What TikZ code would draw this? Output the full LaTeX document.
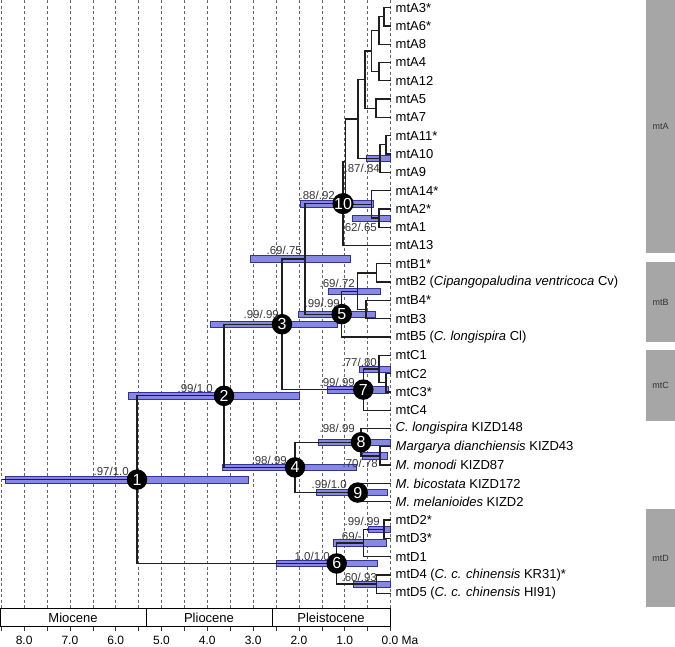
\documentclass[tikz,border=0pt]{standalone}
\usepackage{fontspec}
\setmainfont{Liberation Sans}
\definecolor{barfill}{RGB}{135,135,228}
\definecolor{barline}{RGB}{50,50,150}
\definecolor{cladegray}{RGB}{166,166,166}
\begin{document}
\begin{tikzpicture}[x=1pt,y=-1pt,
  br/.style={draw=black!88, line width=1.25pt},
  hpdbar/.style={fill=barfill, draw=barline, line width=0.6pt},
  supl/.style={font=\fontsize{11.5}{11.5}\selectfont, text=black!78, inner sep=0pt, anchor=east},
  tipl/.style={font=\fontsize{13}{15}\selectfont, anchor=west, inner sep=0pt},
  nc/.style={circle, fill=black, minimum size=20.5pt, inner sep=0pt, text=white, font=\fontsize{16}{16}\selectfont},
  gridl/.style={draw=black!60, line width=0.6pt, dash pattern=on 3pt off 2.5pt},
  clade/.style={fill=cladegray, draw=none},
  cladel/.style={font=\fontsize{9}{9}\selectfont, text=black!80},
  epoch/.style={font=\fontsize{13}{13}\selectfont},
  axl/.style={font=\fontsize{12}{12}\selectfont}]
\useasboundingbox (0,0) rectangle (675,646);
% grid
\foreach \k in {0,...,17}{
  \draw[gridl] ({390.5-22.9*\k},0) -- ({390.5-22.9*\k},608);
  \draw[black!80, line width=0.6pt] ({390.5-22.9*\k},626) -- ({390.5-22.9*\k},631);
}
% tips
\foreach \i in {0,...,32}{ \coordinate (t\i) at (390.5,{7.6+18.3*\i}); }
% internal nodes
\coordinate (n1) at (137,479.63);
\coordinate (n2) at (224,395.8);
\coordinate (n3) at (282,324.24);
\coordinate (nB0) at (305,258.87);
\coordinate (n10) at (343,203.61);
\coordinate (aX) at (345.5,161.72);
\coordinate (aR) at (358,119.12);
\coordinate (aQ) at (365,79.66);
\coordinate (aP) at (371.7,51.06);
\coordinate (a368) at (379,30.475);
\coordinate (a36) at (384,16.75);
\coordinate (a412) at (379,71.65);
\coordinate (a57) at (376,108.25);
\coordinate (a9) at (380,158.575);
\coordinate (a1110) at (386,144.85);
\coordinate (a14) at (371.7,204.33);
\coordinate (a21) at (379,218.05);
\coordinate (n5) at (341.7,314.13);
\coordinate (bY) at (357.7,291.25);
\coordinate (b12) at (376.7,272.95);
\coordinate (b43) at (366,309.55);
\coordinate (n7) at (363.3,389.6);
\coordinate (c1) at (379,369.03);
\coordinate (c23) at (386,382.75);
\coordinate (n4) at (295,467.39);
\coordinate (n8) at (361,442.23);
\coordinate (mm) at (380,455.95);
\coordinate (n9) at (357.7,492.55);
\coordinate (n6) at (336.7,563.46);
\coordinate (d231) at (363.3,542.88);
\coordinate (d23) at (384,529.15);
\coordinate (d45) at (376.7,584.05);
\coordinate (root) at (2,479.63);
% HPD bars
\newcommand\hpd[3]{\draw[hpdbar] (#1,{#3-3.2}) rectangle (#2,{#3+3.2});}
\hpd{5}{248}{479.63}
\hpd{128}{299}{395.8}
\hpd{210}{337}{324.24}
\hpd{250}{350}{258.87}
\hpd{300}{373}{203.61}
\hpd{366}{390}{158.575}
\hpd{352}{390}{218.05}
\hpd{298}{375}{314.13}
\hpd{328}{380}{291.25}
\hpd{359}{390}{369.03}
\hpd{327}{388}{389.6}
\hpd{318}{390}{442.23}
\hpd{362}{387}{455.95}
\hpd{316}{387}{492.55}
\hpd{222}{356}{467.39}
\hpd{368}{390}{529.15}
\hpd{333}{386}{542.88}
\hpd{353}{390}{584.05}
\hpd{276}{377}{563.46}
% branches
\draw[br] (root) -- (n1);
\foreach \p/\c in {n1/n2,n1/n6,n2/n3,n2/n4,n3/nB0,n3/n7,nB0/n10,nB0/n5,
  n10/aX,n10/t13,aX/aR,aX/a14,aR/aQ,aR/a9,aQ/aP,aQ/a57,aP/a368,aP/a412,
  a368/a36,a368/t2,a36/t0,a36/t1,a412/t3,a412/t4,a57/t5,a57/t6,
  a9/a1110,a9/t9,a1110/t7,a1110/t8,a14/t10,a14/a21,a21/t11,a21/t12,
  n5/bY,n5/t18,bY/b12,bY/b43,b12/t14,b12/t15,b43/t16,b43/t17,
  n7/c1,n7/t22,c1/t19,c1/c23,c23/t20,c23/t21,
  n4/n8,n4/n9,n8/t23,n8/mm,mm/t24,mm/t25,n9/t26,n9/t27,
  n6/d231,n6/d45,d231/d23,d231/t30,d23/t28,d23/t29,d45/t31,d45/t32}{
  \draw[br] (\p) |- (\c);
}
% node circles
\foreach \n/\t in {n1/1,n2/2,n3/3,n4/4,n5/5,n6/6,n7/7,n8/8,n9/9,n10/10}{
  \node[nc] (c\t) at (\n) {\t};
}
% support labels
\node[supl] (s1) at (129,471) {.97/1.0};
\node[supl] (s2) at (213,388) {.99/1.0};
\node[supl] (s3) at (279,314) {.99/.99};
\node[supl] (s4) at (302,250) {.69/.75};
\node[supl] (s5) at (335,195) {.88/.92};
\node[supl] (s6) at (380,168) {.87/.84};
\node[supl] (s7) at (377,227) {.62/.65};
\node[supl] (s8) at (340,303) {.99/.99};
\node[supl] (s9) at (355,283) {.69/.72};
\node[supl] (s10) at (377,362) {.77/.80};
\node[supl] (s11) at (355,382) {.99/.99};
\node[supl] (s12) at (355,428) {.98/.99};
\node[supl] (s13) at (378,463) {.70/.78};
\node[supl] (s14) at (287,460) {.98/.99};
\node[supl] (s15) at (347,484) {.99/1.0};
\node[supl] (s16) at (380,521.7) {.99/.99};
\node[supl] (s17) at (362,536) {.69/-};
\node[supl] (s18) at (330,556) {1.0/1.0};
\node[supl] (s19) at (377,577) {.60/.93};
% tip labels
\foreach \i/\txt in {0/{mtA3*},1/{mtA6*},2/{mtA8},3/{mtA4},4/{mtA12},5/{mtA5},6/{mtA7},
  7/{mtA11*},8/{mtA10},9/{mtA9},10/{mtA14*},11/{mtA2*},12/{mtA1},13/{mtA13},
  14/{mtB1*},15/{mtB2 (\textit{Cipangopaludina ventricoca} Cv)},16/{mtB4*},17/{mtB3},
  18/{mtB5 (\textit{C. longispira} Cl)},19/{mtC1},20/{mtC2},21/{mtC3*},22/{mtC4},
  23/{\textit{C. longispira} KIZD148},24/{\textit{Margarya dianchiensis} KIZD43},
  25/{\textit{M. monodi} KIZD87},26/{\textit{M. bicostata} KIZD172},
  27/{\textit{M. melanioides} KIZD2},28/{mtD2*},29/{mtD3*},30/{mtD1},
  31/{mtD4 (\textit{C. c. chinensis} KR31)*},32/{mtD5 (\textit{C. c. chinensis} HI91)}}{
  \node[tipl] (L\i) at ([xshift=5pt]t\i) {\txt};
}
% time scale box
\draw[black, line width=0.8pt, fill=white] (0,608) rectangle (390.5,626);
\draw[black, line width=0.8pt] (146,608) -- (146,626);
\draw[black, line width=0.8pt] (272.5,608) -- (272.5,626);
\node[epoch] (e1) at (73,617.5) {Miocene};
\node[epoch] (e2) at (209,617.5) {Pliocene};
\node[epoch] (e3) at (331,617.5) {Pleistocene};
\foreach \v in {8,7,6,5,4,3,2,1}{
  \node[axl] (ax\v) at ({390.5-45.8*\v},640) {\v.0};
}
\node[axl, anchor=west, inner sep=0pt] (ax0) at (381.5,640) {0.0 Ma};
% clade bars
\fill[clade] (646,0) rectangle (675,253);
\fill[clade] (646,262) rectangle (675,342);
\fill[clade] (646,350) rectangle (675,421);
\fill[clade] (646,509) rectangle (675,607);
\node[cladel] (kA) at (660.5,126.5) {mtA};
\node[cladel] (kB) at (660.5,302) {mtB};
\node[cladel] (kC) at (660.5,385.5) {mtC};
\node[cladel] (kD) at (660.5,558) {mtD};
\end{tikzpicture}
\end{document}
